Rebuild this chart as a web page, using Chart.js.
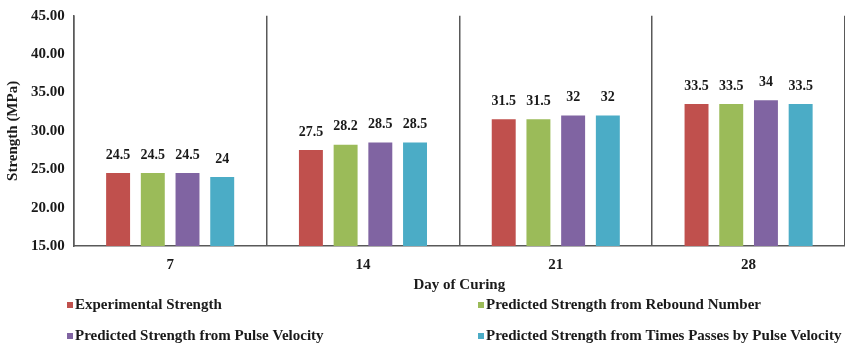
<!DOCTYPE html>
<html>
<head>
  <title>Strength vs Day of Curing</title>
  <script src="https://cdn.jsdelivr.net/npm/chart.js"></script>
  <style>
    html, body { margin: 0; padding: 0; background: #fff; }
    #wrap { width: 845px; height: 348px; position: relative; }
  </style>
</head>
<body>
  <div id="wrap"><canvas id="strengthChart"></canvas></div>

  <script>
    // data
    const days = ['7', '14', '21', '28'];
    const experimental = [24.5, 27.5, 31.5, 33.5];
    const reboundNumber = [24.5, 28.2, 31.5, 33.5];
    const pulseVelocity = [24.5, 28.5, 32, 34];
    const timesPasses = [24, 28.5, 32, 33.5];
    const seriesNames = [
      'Experimental Strength',
      'Predicted Strength from Rebound Number',
      'Predicted Strength from Pulse Velocity',
      'Predicted Strength from Times Passes by Pulse Velocity'
    ];
    const yTicks = [15, 20, 25, 30, 35, 40, 45];

    const colors = ['#C0504D', '#9BBB59', '#8064A2', '#4BACC6'];
    const serif = '"Liberation Serif", "Times New Roman", serif';
    const axisColor = '#595959';

    // value labels above each bar
    const barLabels = {
      id: 'barLabels',
      afterDatasetsDraw(chart) {
        const ctx = chart.ctx;
        ctx.save();
        ctx.font = 'bold 14px ' + serif;
        ctx.fillStyle = '#1a1a1a';
        ctx.textAlign = 'center';
        ctx.textBaseline = 'bottom';
        chart.data.datasets.forEach((ds, i) => {
          chart.getDatasetMeta(i).data.forEach((bar, j) => {
            ctx.fillText(String(ds.data[j]), bar.x, bar.y - 11);
          });
        });
        ctx.restore();
      }
    };

    // two-column legend under the axis title
    const gridLegend = {
      id: 'gridLegend',
      afterDraw(chart) {
        const ctx = chart.ctx;
        const cols = [67, 478];
        const rows = [305, 336];
        ctx.save();
        ctx.font = 'bold 15px ' + serif;
        ctx.textBaseline = 'middle';
        ctx.textAlign = 'left';
        chart.data.datasets.forEach((ds, i) => {
          const x = cols[i % 2];
          const y = rows[Math.floor(i / 2)];
          ctx.fillStyle = ds.backgroundColor;
          ctx.fillRect(x, y - 3, 6, 6);
          ctx.fillStyle = '#1a1a1a';
          ctx.fillText(ds.label, x + 8, y);
        });
        ctx.restore();
      }
    };

    const allSeries = [experimental, reboundNumber, pulseVelocity, timesPasses];

    const ctx = document.getElementById('strengthChart').getContext('2d');
    const chart = new Chart(ctx, {
      type: 'bar',
      data: {
        labels: days,
        datasets: allSeries.map((vals, i) => ({
          label: seriesNames[i],
          data: vals,
          backgroundColor: colors[i],
          borderWidth: 0,
          barPercentage: 0.69,
          categoryPercentage: 0.72
        }))
      },
      options: {
        responsive: true,
        maintainAspectRatio: false,
        animation: false,
        layout: { padding: { top: 0, right: 0, bottom: 54, left: 4 } },
        plugins: {
          legend: { display: false },
          tooltip: { enabled: false }
        },
        scales: {
          x: {
            grid: {
              display: true,
              offset: true,
              color: axisColor,
              lineWidth: 1.5,
              drawTicks: false
            },
            border: { display: true, color: axisColor, width: 1.5 },
            ticks: {
              color: '#1a1a1a',
              padding: 10,
              font: { family: serif, size: 15, weight: 'bold' }
            },
            title: {
              display: true,
              text: 'Day of Curing',
              color: '#1a1a1a',
              padding: { top: -8, bottom: 0 },
              font: { family: serif, size: 15, weight: 'bold' }
            }
          },
          y: {
            min: yTicks[0],
            max: yTicks[yTicks.length - 1],
            afterBuildTicks(axis) {
              axis.ticks = yTicks.map(v => ({ value: v }));
            },
            grid: { display: false, drawTicks: false },
            border: { display: true, color: axisColor, width: 1.5 },
            ticks: {
              color: '#1a1a1a',
              padding: 9,
              font: { family: serif, size: 15, weight: 'bold', lineHeight: 0.9 },
              callback: v => Number(v).toFixed(2)
            },
            title: {
              display: true,
              text: 'Strength (MPa)',
              color: '#1a1a1a',
              padding: { top: 0, bottom: 0 },
              font: { family: serif, size: 15, weight: 'bold' }
            }
          }
        }
      },
      plugins: [barLabels, gridLegend]
    });
  </script>
</body>
</html>
